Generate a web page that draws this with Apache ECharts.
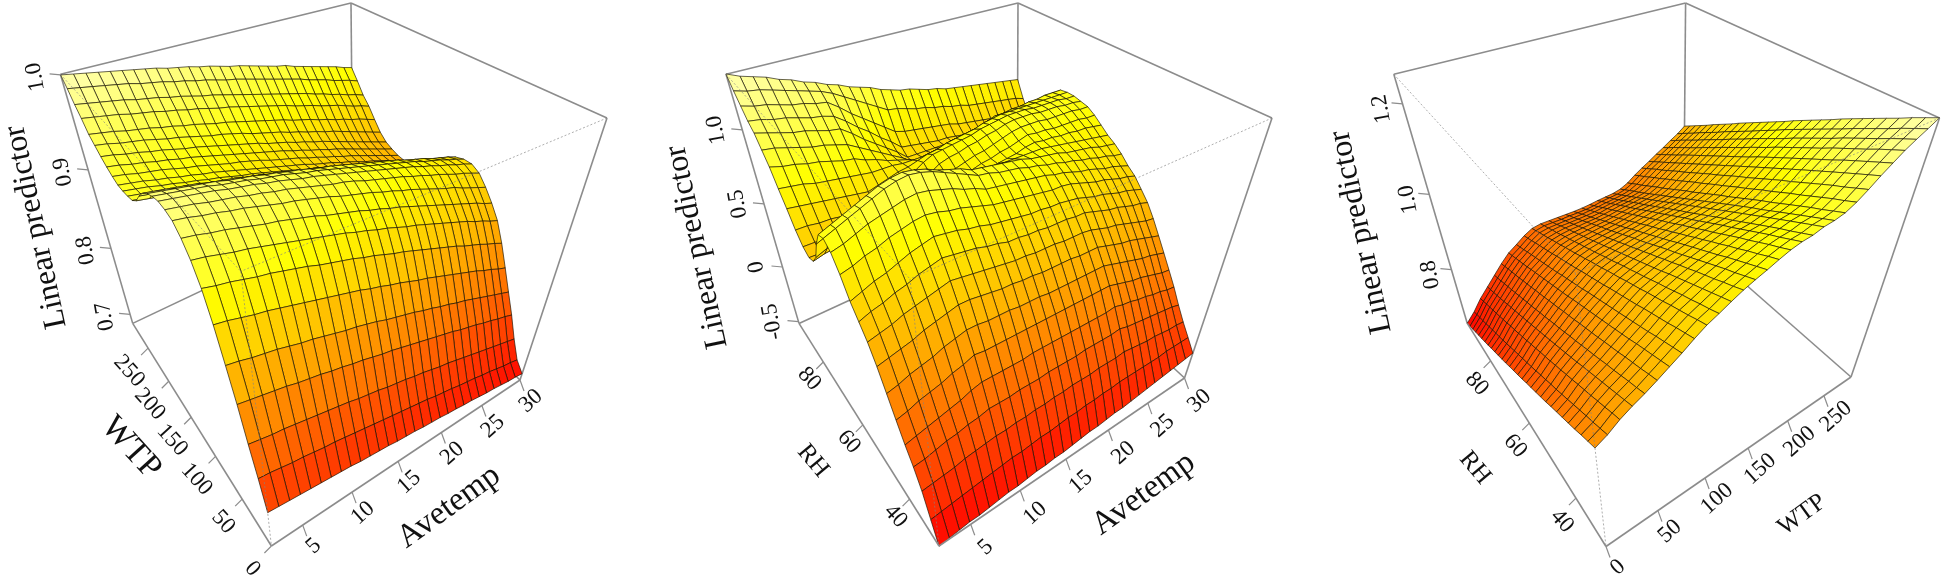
<!DOCTYPE html>
<html><head><meta charset="utf-8"><style>html,body{margin:0;background:#fff}#c{width:1944px;height:583px}</style>
<script src="https://cdn.jsdelivr.net/npm/echarts@6/dist/echarts.min.js"></script></head><body><div id="c"></div><script>
const rhGrid=[29,31.24,33.48,35.72,37.97,40.21,42.45,44.69,46.93,49.17,51.41,53.66,55.9,58.14,60.38,62.62,64.86,67.1,69.34,71.59,73.83,76.07,78.31,80.55,82.79,85.03,87.28,89.52,91.76,94];
const wtpGrid=[0,10,20,30,40,50,60,70,80,90,100,110,120,130,140,150,160,170,180,190,200,210,220,230,240,250,260,270,280,290];
const tempGrid=[2,2.97,3.93,4.9,5.86,6.83,7.79,8.76,9.72,10.69,11.66,12.62,13.59,14.55,15.52,16.48,17.45,18.41,19.38,20.34,21.31,22.28,23.24,24.21,25.17,26.14,27.1,28.07,29.03,30];
const p1Z=[
[.734,.733,.732,.731,.730,.729,.728,.727,.726,.724,.723,.722,.721,.719,.718,.717,.715,.714,.713,.711,.710,.708,.707,.705,.703,.702,.700,.698,.697,.695],
[.767,.766,.764,.762,.761,.759,.757,.756,.754,.752,.750,.748,.746,.744,.742,.740,.738,.736,.733,.731,.729,.726,.724,.722,.719,.717,.714,.711,.709,.706],
[.799,.797,.795,.794,.792,.790,.788,.786,.784,.782,.779,.777,.775,.772,.770,.768,.765,.763,.760,.757,.755,.752,.749,.746,.743,.740,.737,.734,.731,.728],
[.836,.834,.832,.830,.828,.825,.823,.821,.818,.816,.813,.811,.808,.805,.803,.800,.797,.794,.791,.788,.785,.782,.778,.775,.772,.768,.765,.761,.758,.754],
[.870,.868,.865,.863,.861,.858,.855,.853,.850,.847,.844,.842,.839,.836,.832,.829,.826,.823,.819,.816,.812,.809,.805,.802,.798,.794,.790,.786,.782,.778],
[.904,.902,.899,.896,.894,.891,.888,.885,.882,.879,.876,.873,.870,.866,.863,.859,.856,.852,.848,.845,.841,.837,.833,.829,.825,.821,.816,.812,.807,.803],
[.932,.929,.927,.924,.921,.919,.916,.913,.910,.906,.903,.900,.897,.893,.890,.886,.882,.879,.875,.871,.867,.863,.859,.855,.850,.846,.842,.837,.833,.828],
[.951,.949,.946,.943,.941,.938,.935,.932,.929,.926,.923,.920,.917,.913,.910,.906,.903,.899,.895,.892,.888,.884,.880,.876,.872,.868,.863,.859,.854,.850],
[.964,.962,.959,.957,.954,.951,.948,.946,.943,.940,.937,.933,.930,.927,.924,.920,.917,.913,.910,.906,.902,.898,.894,.890,.886,.882,.878,.874,.869,.865],
[.973,.971,.968,.966,.963,.961,.958,.955,.952,.950,.947,.944,.941,.937,.934,.931,.928,.924,.921,.917,.914,.910,.906,.902,.898,.895,.890,.886,.882,.878],
[.976,.974,.972,.969,.967,.965,.962,.960,.957,.955,.952,.949,.946,.943,.941,.938,.934,.931,.928,.925,.922,.918,.915,.911,.908,.904,.900,.897,.893,.889],
[.977,.975,.973,.971,.969,.966,.964,.962,.959,.957,.954,.951,.949,.946,.943,.940,.937,.934,.931,.928,.925,.922,.919,.915,.912,.908,.905,.901,.898,.894],
[.975,.973,.971,.969,.967,.964,.962,.960,.957,.955,.953,.950,.947,.945,.942,.939,.936,.933,.930,.927,.924,.921,.918,.915,.911,.908,.905,.901,.898,.894],
[.971,.969,.967,.965,.963,.961,.958,.956,.954,.951,.949,.946,.944,.941,.938,.936,.933,.930,.927,.924,.921,.918,.915,.911,.908,.905,.901,.898,.895,.891],
[.965,.963,.961,.959,.957,.954,.952,.950,.947,.945,.942,.940,.937,.934,.932,.929,.926,.923,.920,.917,.914,.911,.907,.904,.901,.897,.894,.890,.887,.883],
[.956,.954,.952,.950,.947,.945,.943,.940,.938,.935,.933,.930,.927,.925,.922,.919,.916,.913,.910,.907,.903,.900,.897,.893,.890,.887,.883,.879,.876,.872],
[.945,.943,.941,.939,.937,.934,.932,.930,.927,.925,.922,.919,.917,.914,.911,.908,.905,.902,.899,.896,.893,.890,.887,.883,.880,.876,.873,.869,.866,.862],
[.939,.937,.935,.933,.931,.928,.926,.924,.921,.919,.916,.913,.911,.908,.905,.902,.899,.896,.893,.890,.887,.884,.881,.877,.874,.870,.867,.863,.860,.856],
[.937,.935,.933,.931,.928,.926,.924,.921,.919,.916,.913,.911,.908,.905,.902,.899,.896,.893,.890,.887,.884,.881,.877,.874,.870,.867,.863,.859,.856,.852],
[.936,.934,.932,.929,.927,.924,.922,.919,.917,.914,.911,.909,.906,.903,.900,.897,.893,.890,.887,.884,.880,.877,.873,.870,.866,.862,.859,.855,.851,.847],
[.936,.934,.932,.929,.927,.924,.922,.919,.917,.914,.911,.908,.905,.902,.899,.896,.893,.890,.886,.883,.880,.876,.873,.869,.865,.862,.858,.854,.850,.846],
[.939,.937,.934,.932,.930,.927,.924,.922,.919,.916,.913,.911,.908,.905,.901,.898,.895,.892,.888,.885,.881,.878,.874,.871,.867,.863,.859,.855,.851,.847],
[.943,.941,.938,.936,.933,.931,.928,.926,.923,.920,.917,.914,.911,.908,.905,.902,.899,.895,.892,.888,.885,.881,.878,.874,.870,.866,.862,.858,.854,.850],
[.948,.946,.943,.941,.938,.936,.933,.930,.928,.925,.922,.919,.916,.913,.910,.906,.903,.900,.896,.893,.889,.886,.882,.878,.874,.870,.866,.862,.858,.854],
[.954,.952,.949,.947,.945,.942,.939,.937,.934,.931,.928,.926,.923,.920,.916,.913,.910,.907,.903,.900,.896,.893,.889,.886,.882,.878,.874,.870,.866,.862],
[.960,.958,.956,.953,.951,.949,.946,.944,.941,.939,.936,.933,.931,.928,.925,.922,.919,.916,.913,.909,.906,.903,.899,.896,.892,.889,.885,.882,.878,.874],
[.971,.969,.967,.965,.962,.960,.958,.955,.953,.950,.948,.945,.942,.940,.937,.934,.931,.928,.925,.922,.918,.915,.912,.908,.905,.902,.898,.894,.891,.887],
[.980,.978,.976,.974,.972,.969,.967,.965,.962,.960,.957,.954,.952,.949,.946,.943,.940,.937,.934,.931,.928,.925,.922,.918,.915,.911,.908,.904,.901,.897],
[.991,.989,.987,.985,.983,.981,.978,.976,.974,.971,.969,.966,.964,.961,.958,.956,.953,.950,.947,.944,.941,.938,.935,.931,.928,.925,.921,.918,.915,.911],
[1.0,.998,.996,.994,.992,.990,.988,.986,.984,.981,.979,.977,.974,.972,.969,.966,.964,.961,.958,.955,.952,.950,.946,.943,.940,.937,.934,.931,.927,.924]];
const p2Z=[
[-.52,-.51,-.50,-.49,-.49,-.48,-.47,-.46,-.46,-.45,-.44,-.44,-.43,-.43,-.42,-.41,-.40,-.40,-.39,-.38,-.38,-.37,-.36,-.35,-.34,-.33,-.32,-.31,-.30,-.29],
[-.37,-.36,-.35,-.34,-.33,-.32,-.31,-.30,-.29,-.29,-.28,-.27,-.27,-.26,-.25,-.25,-.24,-.24,-.23,-.23,-.22,-.22,-.22,-.22,-.22,-.22,-.21,-.21,-.21,-.21],
[-.21,-.20,-.19,-.18,-.16,-.15,-.14,-.13,-.13,-.12,-.12,-.11,-.11,-.10,-.10,-.09,-.09,-.09,-.08,-.08,-.08,-.07,-.08,-.09,-.10,-.10,-.11,-.12,-.12,-.13],
[-.09,-.08,-.06,-.04,-.03,-.01,.00,.02,.02,.02,.03,.03,.03,.04,.04,.04,.04,.05,.05,.05,.05,.06,.04,.03,.02,.01,.00,-.01,-.02,-.04],
[.01,.03,.05,.07,.09,.11,.14,.16,.16,.16,.16,.16,.17,.17,.17,.17,.17,.17,.17,.17,.17,.18,.16,.15,.13,.12,.10,.09,.07,.06],
[.13,.15,.18,.20,.22,.25,.27,.30,.29,.29,.29,.29,.29,.29,.29,.29,.29,.29,.29,.29,.29,.29,.27,.25,.23,.22,.20,.18,.16,.15],
[.26,.28,.31,.33,.35,.38,.40,.42,.42,.41,.41,.41,.40,.40,.40,.39,.39,.39,.39,.39,.39,.39,.37,.35,.33,.31,.29,.28,.26,.24],
[.39,.41,.43,.45,.48,.50,.52,.54,.54,.53,.52,.51,.51,.50,.50,.49,.49,.49,.49,.48,.48,.48,.46,.44,.42,.41,.39,.37,.35,.33],
[.50,.52,.54,.57,.59,.61,.63,.65,.64,.63,.62,.61,.60,.59,.59,.58,.58,.58,.57,.57,.57,.56,.54,.52,.51,.49,.47,.45,.43,.42],
[.58,.61,.63,.66,.68,.71,.73,.75,.74,.73,.72,.70,.69,.67,.67,.66,.66,.65,.65,.65,.64,.64,.62,.60,.58,.57,.55,.53,.52,.50],
[.66,.69,.72,.74,.77,.80,.82,.84,.83,.82,.80,.79,.77,.76,.75,.74,.73,.73,.72,.72,.71,.70,.68,.66,.65,.63,.61,.60,.58,.56],
[.78,.80,.83,.85,.88,.90,.92,.93,.92,.90,.89,.87,.85,.83,.82,.81,.80,.79,.78,.77,.77,.76,.74,.72,.70,.69,.67,.65,.64,.62],
[.87,.89,.92,.95,.97,.99,1.01,1.02,1.01,.99,.97,.94,.92,.89,.88,.87,.86,.85,.84,.83,.81,.80,.78,.76,.75,.73,.71,.70,.68,.66],
[.91,.94,.97,1.00,1.03,1.06,1.08,1.09,1.08,1.06,1.03,1.00,.97,.94,.93,.91,.90,.89,.87,.86,.84,.83,.81,.80,.78,.77,.75,.74,.72,.71],
[.89,.92,.95,.98,1.01,1.04,1.06,1.07,1.06,1.04,1.01,.99,.97,.94,.93,.92,.91,.90,.89,.87,.86,.85,.84,.82,.81,.80,.79,.77,.76,.75],
[.79,.82,.85,.87,.90,.93,.95,.96,.95,.94,.92,.90,.89,.87,.87,.87,.86,.86,.86,.86,.86,.86,.85,.84,.83,.82,.81,.80,.79,.78],
[.66,.69,.71,.74,.76,.78,.81,.83,.82,.81,.80,.79,.78,.78,.79,.80,.81,.82,.83,.84,.86,.87,.86,.86,.85,.85,.84,.84,.83,.82],
[.59,.61,.62,.64,.65,.67,.69,.70,.71,.72,.73,.74,.75,.76,.77,.79,.81,.82,.84,.85,.87,.89,.88,.88,.87,.87,.87,.87,.86,.86],
[.57,.57,.58,.58,.58,.58,.59,.59,.62,.65,.68,.71,.74,.78,.79,.81,.83,.84,.86,.88,.90,.91,.91,.91,.90,.90,.90,.90,.89,.89],
[.60,.60,.59,.59,.59,.59,.59,.59,.63,.66,.70,.74,.77,.81,.83,.84,.86,.87,.89,.90,.92,.93,.93,.93,.92,.92,.92,.91,.91,.90],
[.67,.67,.66,.66,.65,.65,.64,.64,.67,.70,.74,.77,.81,.84,.85,.86,.87,.88,.90,.91,.92,.93,.93,.93,.92,.92,.92,.92,.91,.91],
[.77,.76,.75,.74,.73,.72,.71,.70,.72,.74,.76,.77,.79,.81,.82,.84,.85,.86,.87,.89,.90,.91,.91,.91,.91,.91,.91,.91,.91,.91],
[.86,.85,.84,.82,.81,.80,.79,.78,.77,.77,.77,.76,.76,.76,.77,.78,.80,.81,.82,.83,.85,.87,.87,.88,.88,.89,.89,.90,.90,.90],
[.96,.94,.93,.91,.90,.88,.86,.85,.82,.80,.77,.75,.73,.70,.71,.72,.73,.74,.75,.77,.78,.79,.80,.81,.81,.82,.83,.83,.84,.85],
[1.03,1.02,1.00,.98,.96,.95,.93,.91,.87,.83,.79,.75,.71,.66,.67,.68,.69,.69,.70,.71,.71,.72,.72,.73,.73,.74,.74,.75,.75,.76],
[1.10,1.08,1.06,1.04,1.03,1.01,.99,.98,.93,.87,.82,.77,.72,.66,.66,.66,.66,.66,.66,.66,.65,.65,.66,.66,.66,.66,.66,.66,.66,.66],
[1.14,1.13,1.11,1.10,1.08,1.06,1.05,1.03,.98,.92,.87,.81,.76,.70,.69,.68,.67,.66,.66,.65,.64,.64,.63,.62,.62,.61,.61,.60,.60,.59],
[1.20,1.18,1.17,1.15,1.13,1.12,1.10,1.09,1.04,.98,.93,.88,.83,.78,.76,.75,.74,.73,.72,.71,.69,.68,.67,.66,.65,.64,.63,.61,.60,.59],
[1.26,1.24,1.23,1.21,1.19,1.17,1.15,1.13,1.10,1.06,1.02,.98,.94,.90,.89,.87,.85,.84,.82,.81,.79,.78,.76,.75,.74,.73,.72,.71,.70,.68],
[1.33,1.30,1.28,1.26,1.23,1.21,1.18,1.16,1.13,1.11,1.08,1.06,1.04,1.01,.99,.97,.96,.94,.92,.91,.89,.88,.87,.86,.85,.84,.83,.82,.81,.80]];
const p3Z=[
[.900,.914,.933,.948,.961,.976,.992,1.008,1.026,1.042,1.054,1.067,1.079,1.089,1.098,1.108,1.117,1.123,1.126,1.133,1.136,1.142,1.154,1.170,1.188,1.204,1.220,1.233,1.245,1.258],
[.891,.905,.925,.940,.953,.969,.985,1.001,1.019,1.035,1.046,1.059,1.070,1.080,1.089,1.099,1.107,1.113,1.116,1.123,1.126,1.132,1.144,1.160,1.178,1.194,1.210,1.223,1.235,1.248],
[.882,.896,.916,.932,.946,.961,.978,.994,1.012,1.027,1.039,1.051,1.062,1.071,1.080,1.089,1.098,1.103,1.106,1.113,1.116,1.122,1.135,1.150,1.168,1.184,1.200,1.213,1.225,1.238],
[.872,.888,.908,.924,.938,.954,.971,.987,1.004,1.020,1.031,1.043,1.053,1.063,1.071,1.080,1.088,1.094,1.097,1.103,1.106,1.113,1.125,1.141,1.158,1.174,1.189,1.202,1.214,1.227],
[.863,.879,.899,.916,.930,.947,.964,.979,.997,1.013,1.024,1.035,1.045,1.054,1.062,1.070,1.078,1.084,1.087,1.093,1.096,1.103,1.115,1.131,1.148,1.164,1.179,1.192,1.204,1.217],
[.854,.870,.891,.908,.923,.939,.956,.972,.990,1.005,1.016,1.027,1.037,1.045,1.052,1.061,1.069,1.074,1.077,1.083,1.086,1.093,1.105,1.121,1.138,1.153,1.169,1.182,1.194,1.207],
[.845,.861,.883,.900,.915,.932,.949,.965,.983,.998,1.008,1.019,1.028,1.036,1.043,1.051,1.059,1.064,1.067,1.073,1.076,1.083,1.096,1.111,1.128,1.143,1.159,1.172,1.184,1.197],
[.836,.852,.874,.892,.907,.925,.942,.958,.975,.991,1.001,1.011,1.020,1.027,1.034,1.042,1.049,1.054,1.057,1.063,1.066,1.073,1.086,1.101,1.118,1.133,1.148,1.161,1.173,1.187],
[.826,.843,.866,.883,.900,.917,.935,.951,.968,.983,.993,1.002,1.011,1.018,1.025,1.032,1.039,1.045,1.047,1.053,1.057,1.064,1.076,1.092,1.108,1.123,1.138,1.151,1.163,1.177],
[.817,.835,.857,.875,.892,.910,.928,.944,.961,.976,.985,.994,1.003,1.009,1.016,1.023,1.030,1.035,1.038,1.043,1.047,1.054,1.067,1.082,1.098,1.113,1.128,1.141,1.153,1.166],
[.808,.826,.849,.867,.884,.903,.921,.937,.954,.969,.978,.986,.994,1.001,1.007,1.013,1.020,1.025,1.028,1.033,1.037,1.044,1.057,1.072,1.088,1.103,1.118,1.131,1.143,1.156],
[.799,.817,.840,.859,.877,.896,.914,.930,.947,.961,.970,.978,.986,.992,.997,1.004,1.010,1.015,1.018,1.023,1.027,1.034,1.047,1.062,1.078,1.093,1.108,1.121,1.133,1.146],
[.790,.808,.832,.851,.869,.888,.907,.923,.939,.954,.963,.970,.977,.983,.988,.994,1.001,1.005,1.008,1.013,1.017,1.024,1.038,1.052,1.068,1.083,1.098,1.110,1.123,1.136],
[.780,.799,.824,.843,.861,.881,.900,.916,.932,.947,.955,.962,.969,.974,.979,.985,.991,.996,.998,1.003,1.007,1.015,1.028,1.043,1.058,1.073,1.087,1.100,1.113,1.126],
[.771,.790,.815,.835,.854,.874,.893,.908,.925,.939,.947,.954,.960,.965,.970,.975,.981,.986,.988,.993,.997,1.005,1.018,1.033,1.048,1.062,1.077,1.090,1.102,1.115],
[.762,.782,.807,.827,.846,.866,.885,.901,.918,.932,.940,.946,.952,.957,.961,.966,.972,.976,.979,.983,.987,.995,1.009,1.023,1.038,1.052,1.067,1.080,1.092,1.105],
[.753,.773,.798,.819,.838,.859,.878,.894,.911,.925,.932,.938,.943,.948,.952,.957,.962,.966,.969,.973,.977,.985,.999,1.013,1.028,1.042,1.056,1.070,1.082,1.095],
[.743,.764,.790,.811,.831,.852,.871,.887,.903,.917,.924,.930,.935,.939,.943,.947,.952,.956,.959,.963,.967,.975,.989,1.004,1.018,1.032,1.046,1.059,1.071,1.085],
[.734,.755,.781,.803,.823,.844,.864,.880,.896,.910,.917,.922,.926,.930,.933,.938,.942,.947,.949,.953,.957,.966,.980,.994,1.008,1.022,1.036,1.049,1.061,1.075],
[.725,.746,.773,.795,.815,.837,.857,.872,.889,.902,.909,.914,.918,.921,.924,.928,.933,.937,.939,.943,.947,.956,.970,.984,.998,1.012,1.026,1.039,1.051,1.065],
[.716,.737,.765,.787,.808,.830,.850,.865,.882,.895,.902,.906,.909,.912,.915,.919,.923,.927,.929,.933,.937,.946,.960,.974,.988,1.002,1.015,1.028,1.041,1.055],
[.707,.728,.756,.779,.800,.822,.843,.858,.875,.888,.894,.898,.901,.904,.906,.909,.913,.917,.919,.923,.927,.936,.950,.964,.978,.992,1.005,1.018,1.031,1.044],
[.697,.720,.748,.771,.793,.815,.836,.851,.867,.880,.886,.890,.892,.895,.897,.900,.904,.907,.910,.913,.917,.926,.941,.955,.968,.982,.995,1.008,1.020,1.034],
[.688,.711,.739,.763,.785,.808,.829,.844,.860,.873,.879,.882,.884,.886,.888,.890,.894,.898,.900,.903,.907,.917,.931,.945,.958,.972,.984,.998,1.010,1.024],
[.679,.702,.731,.754,.777,.800,.821,.837,.853,.866,.871,.874,.875,.877,.878,.881,.884,.888,.890,.893,.897,.907,.921,.935,.948,.962,.974,.987,1.000,1.014],
[.670,.693,.723,.746,.770,.793,.814,.830,.846,.858,.863,.866,.867,.868,.869,.871,.875,.878,.880,.883,.887,.897,.912,.925,.938,.951,.964,.977,.990,1.003],
[.661,.684,.714,.738,.762,.786,.807,.823,.839,.851,.856,.858,.858,.859,.860,.862,.865,.868,.870,.873,.878,.887,.902,.916,.928,.941,.954,.967,.979,.993],
[.651,.676,.706,.730,.754,.779,.800,.815,.831,.844,.848,.849,.850,.850,.851,.853,.855,.858,.860,.863,.868,.878,.892,.906,.918,.931,.944,.957,.969,.983],
[.642,.667,.697,.722,.747,.771,.793,.808,.824,.836,.841,.841,.841,.842,.842,.843,.845,.849,.851,.853,.858,.868,.883,.896,.908,.921,.933,.946,.959,.973],
[.633,.658,.689,.714,.739,.764,.786,.801,.817,.829,.833,.833,.833,.833,.833,.834,.836,.839,.841,.843,.848,.858,.873,.886,.898,.911,.923,.936,.948,.963]];
const tempTicks=[5,10,15,20,25,30],wtpTicks=[0,50,100,150,200,250],rhTicks=[40,60,80];
const p1ZTicks=[.7,.8,.9,1],p2ZTicks=[-.5,0,.5,1],p3ZTicks=[.8,1,1.2];
const panels=[
{rows:wtpGrid,cols:tempGrid,z:p1Z,u:[2,30],v:[0,290],zr:[.685,1.0006],
 b:[[271.4,546],[520,380],[353,219],[132.7,323.4]],t:[[240.8,271.4],[607,118],[351,3],[60.4,74.3]],
 uT:tempTicks,vT:wtpTicks,zT:p1ZTicks,zFmt:t=>t.toFixed(1),
 uO:[11,21],vO:[-19,23],zO:[-25,2],title:[['Linear predictor',36,227,102,32],['WTP',131,448,-48,34],['Avetemp',449,507,36,33]]},
{rows:rhGrid,cols:tempGrid,z:p2Z,u:[2,30],v:[29,94],zr:[-.517,1.328],
 b:[[939,546],[1184.5,378],[1017,223],[799,323.4]],t:[[910,279],[1272,118],[1018,3],[726,74.3]],
 uT:tempTicks,vT:rhTicks,zT:p2ZTicks,zFmt:t=>t===0?'0':t.toFixed(1),
 uO:[15,23],vO:[-14,17],zO:[-26,0],title:[['Linear predictor',697,247,102,32],['RH',813,461,-50,25],['Avetemp',1143.7,494,36,33]]},
{rows:rhGrid,cols:wtpGrid,z:p3Z,u:[0,290],v:[29,94],zr:[.6325,1.2575],
 b:[[1606,546.5],[1851,377],[1683.6,230],[1467.3,323.4]],t:[[1575.4,273],[1939.5,118],[1685.6,3],[1393.8,74.3]],
 uT:wtpTicks,vT:rhTicks,zT:p3ZTicks,zFmt:t=>t.toFixed(1),
 uO:[12,21],vO:[-14,23],zO:[-21,5],title:[['Linear predictor',1361,232,102,32],['RH',1475,468,-50,25],['WTP',1802,515,36,25]]}];
const DEPTH=1.33;
const heat=['#ff0000','#ff5500','#ffaa00','#ffff00','#ffffb4'];
function homog(q){const[x0,y0]=q[0],[x1,y1]=q[1],[x2,y2]=q[2],[x3,y3]=q[3];
 const dx1=x1-x2,dx2=x3-x2,sx=x0-x1+x2-x3,dy1=y1-y2,dy2=y3-y2,sy=y0-y1+y2-y3,den=dx1*dy2-dx2*dy1;
 const g=(sx*dy2-dx2*sy)/den,h=(dx1*sy-sx*dy1)/den,a=x1-x0+g*x1,b=x3-x0+h*x3,d=y1-y0+g*y1,e=y3-y0+h*y3;
 return(u,v)=>{const n=g*u+h*v+1;return[(a*u+b*v+x0)/n,(d*u+e*v+y0)/n]}}
panels.forEach(p=>{const hb=homog(p.b),ht=homog(p.t);
 p.proj=(uv,vv,zv)=>{const u=(uv-p.u[0])/(p.u[1]-p.u[0]),v=(vv-p.v[0])/(p.v[1]-p.v[0]),w=(zv-p.zr[0])/(p.zr[1]-p.zr[0]);
  const B=hb(u,v),T=ht(u,v),kb=(1-w)*DEPTH,n=kb+w;return[(B[0]*kb+T[0]*w)/n,(B[1]*kb+T[1]*w)/n]};});
function seg(api,a,b,style){const A=api.coord(a),B=api.coord(b);return{type:'line',shape:{x1:A[0],y1:A[1],x2:B[0],y2:B[1]},style:style}}
const series=[];
panels.forEach(p=>{const U=p.u,V=p.v,Z=p.zr,P=p.proj,solid={stroke:'#8c8c8c',lineWidth:1.6};
 const dotted={stroke:'rgba(130,130,130,.65)',lineWidth:1,lineDash:[2,2]};
 const back=[[U[0],V[1],Z[1],U[1],V[1],Z[1]],[U[1],V[1],Z[1],U[1],V[0],Z[1]],[U[1],V[1],Z[1],U[1],V[1],Z[0]],[U[0],V[1],Z[0],U[1],V[1],Z[0]],[U[1],V[0],Z[0],U[1],V[1],Z[0]],[U[0],V[1],Z[1],U[0],V[1],Z[0]],[U[1],V[0],Z[1],U[1],V[0],Z[0]]];
 series.push({type:'custom',coordinateSystem:'cartesian2d',silent:true,animation:false,clip:false,data:back.map((_,i)=>[i]),
  renderItem:(x,api)=>{const e=back[api.value(0)];return seg(api,P(e[0],e[1],e[2]),P(e[3],e[4],e[5]),solid)}});
 const cells=[];for(let i=p.rows.length-2;i>=0;i--)for(let j=p.cols.length-2;j>=0;j--)cells.push([j,i]);
 series.push({type:'custom',coordinateSystem:'cartesian2d',silent:true,animation:false,clip:false,progressive:0,data:cells,
  renderItem:(x,api)=>{const j=api.value(0),i=api.value(1),c=[[i,j],[i,j+1],[i+1,j+1],[i+1,j]];
   const pts=c.map(k=>api.coord(P(p.cols[k[1]],p.rows[k[0]],p.z[k[0]][k[1]])));
   const m=c.reduce((s,k)=>s+p.z[k[0]][k[1]],0)/4,w=Math.min(1,Math.max(0,(m-Z[0])/(Z[1]-Z[0])));
   return{type:'polygon',shape:{points:pts},style:{fill:echarts.color.lerp(w,heat),stroke:'rgba(20,15,0,.72)',lineWidth:.9}}}});
 const front=[[U[0],V[1],Z[1],U[0],V[0],Z[1],dotted],[U[1],V[0],Z[1],U[0],V[0],Z[1],dotted],[U[0],V[0],Z[1],U[0],V[0],Z[0],dotted],[U[0],V[0],Z[0],U[1],V[0],Z[0],solid],[U[0],V[0],Z[0],U[0],V[1],Z[0],solid]];
 const ticks=[];
 p.uT.forEach(t=>{const a=P(t,V[0],Z[0]);ticks.push({a,b:[a[0]+4,a[1]+11],l:[a[0]+p.uO[0],a[1]+p.uO[1]],s:String(t),r:42})});
 p.vT.forEach(t=>{const a=P(U[0],t,Z[0]);ticks.push({a,b:[a[0]-7,a[1]+7],l:[a[0]+p.vO[0],a[1]+p.vO[1]],s:String(t),r:-48})});
 p.zT.forEach(t=>{const a=P(U[0],V[1],t);ticks.push({a,b:[a[0]-11,a[1]-1],l:[a[0]+p.zO[0],a[1]+p.zO[1]],s:p.zFmt(t),r:100})});
 series.push({type:'custom',coordinateSystem:'cartesian2d',silent:true,animation:false,clip:false,data:front.map((_,i)=>[i]),
  renderItem:(x,api)=>{const e=front[api.value(0)];return seg(api,P(e[0],e[1],e[2]),P(e[3],e[4],e[5]),e[6])}});
 series.push({type:'custom',coordinateSystem:'cartesian2d',silent:true,animation:false,clip:false,data:ticks.map((_,i)=>[i]),
  renderItem:(x,api)=>{const k=ticks[api.value(0)],L=api.coord(k.l);return{type:'group',children:[seg(api,k.a,k.b,{stroke:'#8c8c8c',lineWidth:1.2}),
   {type:'text',x:L[0],y:L[1],rotation:k.r*Math.PI/180,style:{text:k.s,fontFamily:'Liberation Serif',fontSize:23,fill:'#111',align:'center',verticalAlign:'middle'}}]}}});
 series.push({type:'custom',coordinateSystem:'cartesian2d',silent:true,animation:false,clip:false,data:p.title.map((_,i)=>[i]),
  renderItem:(x,api)=>{const k=p.title[api.value(0)],L=api.coord([k[1],k[2]]);return{type:'text',x:L[0],y:L[1],rotation:k[3]*Math.PI/180,style:{text:k[0],fontFamily:'Liberation Serif',fontSize:k[4],fill:'#111',align:'center',verticalAlign:'middle'}}}});
});
const chart=echarts.init(document.getElementById('c'),null,{renderer:'canvas'});
chart.setOption({animation:false,backgroundColor:'#fff',grid:{left:0,right:0,top:0,bottom:0},
 xAxis:{type:'value',min:0,max:1944,show:false},yAxis:{type:'value',min:0,max:583,inverse:true,show:false},series});
</script></body></html>
